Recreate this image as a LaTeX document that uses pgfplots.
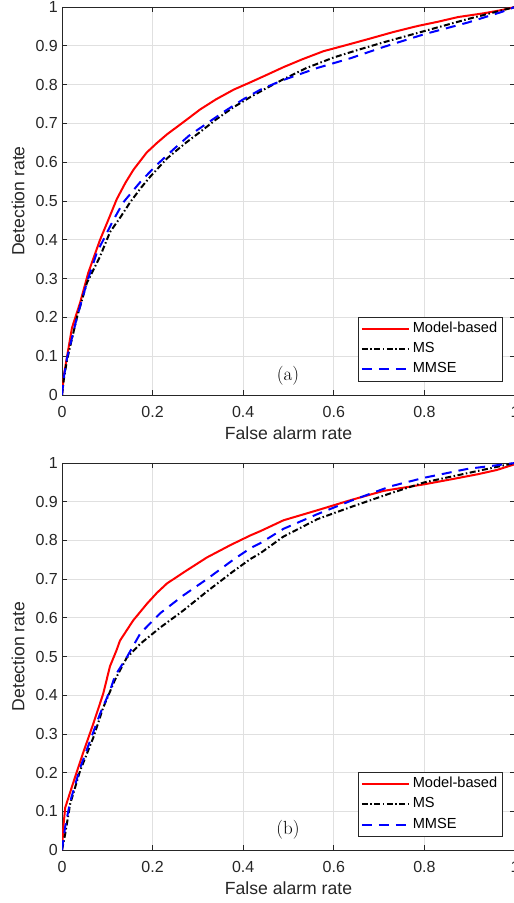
\documentclass[border=0pt]{standalone}
\usepackage{fontspec}
\setsansfont{Liberation Sans}
\usepackage{pgfplots}
\pgfplotsset{compat=1.18}
\definecolor{axgray}{HTML}{262626}
\definecolor{gridgray}{HTML}{E0E0E0}

\pgfplotsset{
  rocaxis/.style={
    scale only axis, width=453pt,
    xmin=0, xmax=1, ymin=0, ymax=1,
    xtick={0,0.2,0.4,0.6,0.8,1},
    ytick={0,0.1,0.2,0.3,0.4,0.5,0.6,0.7,0.8,0.9,1},
    grid=major, major grid style={gridgray, line width=0.7pt},
    axis line style={axgray, line width=0.7pt},
    every tick/.style={axgray, line width=0.7pt},
    major tick length=5pt, tick align=inside,
    ticklabel style={font=\fontsize{16}{16}\sffamily, text=axgray},
    /pgf/number format/assume math mode=true,
    xticklabel style={anchor=center, yshift=-17pt},
    yticklabel style={anchor=east, inner sep=0pt, xshift=-4pt},
    xlabel={False alarm rate}, ylabel={Detection rate},
    every axis x label/.style={at={(axis description cs:0.5,0)}, anchor=center, yshift=-38pt,
      font=\fontsize{17.6}{17.6}\sffamily, text=axgray},
    every axis y label/.style={at={(axis description cs:-0.097,0.5)}, anchor=center, rotate=90,
      font=\fontsize{17.6}{17.6}\sffamily, text=axgray},
    legend style={at={(axis cs:0.9735,0.201)}, anchor=north east,
      draw=axgray, line width=0.6pt, fill=white,
      font=\fontsize{14.6}{14.6}\sffamily, inner xsep=2.5pt, inner ysep=1.5pt,
      nodes={inner xsep=3pt, inner ysep=2.6pt, text height=11pt, text depth=4pt},
      cells={anchor=west}},
    legend cell align=left,
    legend image code/.code={\draw[#1] (0pt,0pt) -- (47pt,0pt);},
  },
  mb/.style={red, line width=2pt, line join=round},
  ms/.style={black, line width=2pt, line join=round, dash pattern=on 6pt off 2.5pt on 1.5pt off 2.5pt},
  mmse/.style={blue, line width=2pt, line join=round, dash pattern=on 10pt off 7pt},
}

\begin{document}
\begin{tikzpicture}
% (a)
\begin{axis}[rocaxis, height=388pt, at={(62pt,508pt)}, anchor=south west]
\addplot[mb] coordinates {
(0,0) (0.004,0.05) (0.011,0.098) (0.022,0.173) (0.04,0.238) (0.058,0.315) (0.084,0.40)
(0.1,0.445) (0.121,0.505) (0.14,0.547) (0.158,0.581) (0.187,0.625) (0.21,0.65) (0.232,0.672)
(0.27,0.705) (0.305,0.736) (0.34,0.762) (0.379,0.787) (0.416,0.806) (0.45,0.824)
(0.489,0.845) (0.53,0.865) (0.577,0.886) (0.625,0.901) (0.675,0.917) (0.73,0.935)
(0.785,0.951) (0.83,0.962) (0.874,0.974) (0.932,0.984) (0.97,0.992) (1,1)};
\addlegendentry{Model-based}
\addplot[ms] coordinates {
(0,0) (0.004,0.04) (0.011,0.09) (0.033,0.20) (0.055,0.289) (0.084,0.357) (0.106,0.42)
(0.13,0.46) (0.15,0.496) (0.175,0.535) (0.195,0.563) (0.232,0.61) (0.27,0.647)
(0.305,0.678) (0.34,0.71) (0.379,0.742) (0.416,0.768) (0.45,0.79) (0.489,0.814)
(0.54,0.843) (0.60,0.870) (0.655,0.89) (0.71,0.909) (0.80,0.938) (0.896,0.969) (1,1)};
\addlegendentry{MS}
\addplot[mmse] coordinates {
(0,0) (0.004,0.045) (0.011,0.095) (0.033,0.20) (0.055,0.29) (0.077,0.367) (0.1,0.42)
(0.113,0.45) (0.135,0.496) (0.175,0.552) (0.21,0.594) (0.245,0.632) (0.28,0.668)
(0.32,0.70) (0.36,0.732) (0.4,0.762) (0.438,0.787) (0.47,0.803) (0.489,0.812)
(0.564,0.843) (0.637,0.868) (0.71,0.897) (0.80,0.93) (0.896,0.96) (0.97,0.987) (1,1)};
\addlegendentry{MMSE}
\node at (axis cs:0.499,0.049) {\fontsize{19}{19}\selectfont (a)};
\end{axis}
% (b)
\begin{axis}[rocaxis, height=387pt, at={(62pt,53pt)}, anchor=south west]
\addplot[mb] coordinates {
(0,0) (0.003,0.06) (0.007,0.109) (0.024,0.171) (0.046,0.249) (0.069,0.326) (0.091,0.404)
(0.106,0.475) (0.12,0.515) (0.128,0.541) (0.157,0.593) (0.188,0.637) (0.21,0.665) (0.232,0.689)
(0.276,0.723) (0.32,0.756) (0.372,0.788) (0.416,0.813) (0.438,0.824) (0.489,0.852)
(0.564,0.878) (0.637,0.904) (0.71,0.928) (0.80,0.945) (0.86,0.958) (0.918,0.971)
(0.96,0.982) (1,0.997)};
\addlegendentry{Model-based}
\addplot[ms] coordinates {
(0,0) (0.007,0.041) (0.018,0.119) (0.04,0.205) (0.069,0.29) (0.091,0.368) (0.117,0.44)
(0.143,0.497) (0.173,0.533) (0.217,0.575) (0.268,0.619) (0.32,0.668) (0.378,0.72)
(0.416,0.752) (0.438,0.767) (0.489,0.81) (0.564,0.855) (0.637,0.886) (0.726,0.922)
(0.80,0.95) (0.896,0.974) (1,1)};
\addlegendentry{MS}
\addplot[mmse] coordinates {
(0,0) (0.007,0.06) (0.018,0.125) (0.04,0.212) (0.062,0.282) (0.084,0.352) (0.106,0.412)
(0.117,0.45) (0.144,0.5) (0.173,0.56) (0.217,0.612) (0.268,0.658) (0.32,0.7)
(0.378,0.75) (0.416,0.78) (0.438,0.793) (0.489,0.83) (0.564,0.868) (0.637,0.902)
(0.726,0.94) (0.80,0.962) (0.896,0.985) (1,1)};
\addlegendentry{MMSE}
\node at (axis cs:0.499,0.053) {\fontsize{19}{19}\selectfont (b)};
\end{axis}
\pgfresetboundingbox
\useasboundingbox (0,0) rectangle (514pt,903pt);
\end{tikzpicture}
\end{document}
